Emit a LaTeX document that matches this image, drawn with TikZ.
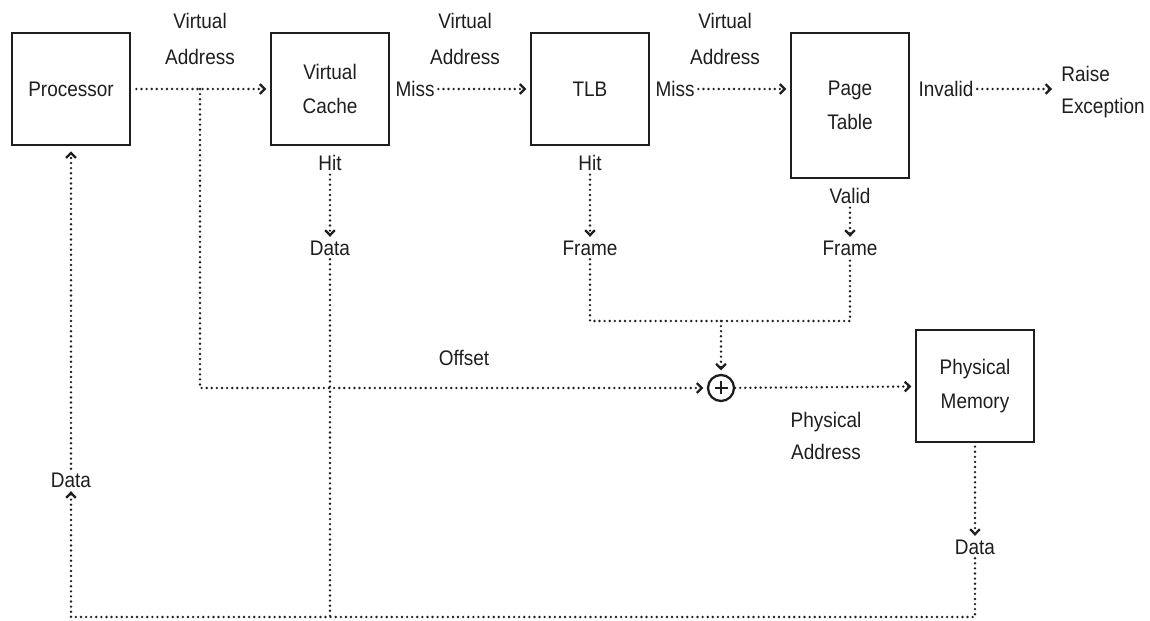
\documentclass[tikz,border=0pt]{standalone}
\usepackage{fontspec}
\setmainfont{Liberation Sans}[FakeStretch=0.9]
\usepackage{tikz}
\usetikzlibrary{arrows.meta, positioning, calc}
\definecolor{ink}{RGB}{30, 30, 30}

\begin{document}
\begin{tikzpicture}[
    x=0.02cm, y=-0.02cm,
    every node/.style={text=ink, font=\fontsize{12}{19}\selectfont},
    block/.style={draw=ink, line width=1.3pt, minimum width=2.36cm, minimum height=2.24cm, align=center},
    lbl/.style={align=center, inner sep=2pt},
    dots/.style={draw=ink, line width=1.5pt, line cap=round, dash pattern=on 0pt off 2.9pt},
    flow/.style={dots, -{Straight Barb[length=2.8pt, width=5.5pt, line width=1.3pt]}},
    adder/.style={draw=ink, line width=1.3pt, circle, minimum size=0.52cm, inner sep=0pt,
        path picture={\draw[ink, line width=1.2pt]
            ($(path picture bounding box.north)!0.25!(path picture bounding box.south)$) --
            ($(path picture bounding box.north)!0.75!(path picture bounding box.south)$)
            ($(path picture bounding box.west)!0.25!(path picture bounding box.east)$) --
            ($(path picture bounding box.west)!0.75!(path picture bounding box.east)$);}}
]
    \useasboundingbox (0,0) rectangle (1150,621);

    % Boxes
    \node[block] (proc) at (71, 89) {Processor};
    \node[block] (vcache) at (330, 89) {Virtual\\Cache};
    \node[block] (tlb) at (590, 89) {TLB};
    \node[block, minimum height=2.9cm] (ptable) at (850, 105.5) {Page\\Table};
    \node[block] (pmem) at (975, 386) {Physical\\Memory};
    \node[adder] (plus) at (721, 388) {};

    % Labels
    \node[lbl, font=\fontsize{12}{21}\selectfont] at (200, 39) {Virtual\\Address};
    \node[lbl, font=\fontsize{12}{21}\selectfont] at (465, 39) {Virtual\\Address};
    \node[lbl, font=\fontsize{12}{21}\selectfont] at (725, 39) {Virtual\\Address};
    \node[lbl] (miss1) at (415, 89) {Miss};
    \node[lbl] (miss2) at (675, 89) {Miss};
    \node[lbl] (invalid) at (946, 89) {Invalid};
    \node[lbl, align=left, font=\fontsize{12}{18}\selectfont] (exc) at (1103, 92) {Raise\\Exception};
    \node[lbl] (hit1) at (330, 163) {Hit};
    \node[lbl] (data1) at (330, 248) {Data};
    \node[lbl] (hit2) at (590, 163) {Hit};
    \node[lbl] (frame1) at (590, 248) {Frame};
    \node[lbl] (valid) at (850, 196) {Valid};
    \node[lbl] (frame2) at (850, 248) {Frame};
    \node[lbl] at (464, 358) {Offset};
    \node[lbl, font=\fontsize{12}{18}\selectfont] at (826, 436) {Physical\\Address};
    \node[lbl] (data3) at (975, 547) {Data};
    \node[lbl] (data0) at (71, 480) {Data};

    \coordinate (va) at (200, 89);
    \coordinate (join) at (721, 321);
    \coordinate (corner) at (71, 617);

    % Virtual address path
    \draw[flow, shorten <=3pt, shorten >=2pt] (proc) -- (vcache);
    \draw[flow, shorten >=2pt] (va) |- (plus);
    \draw[flow, shorten >=2pt] (miss1) -- (tlb);
    \draw[flow, shorten >=2pt] (miss2) -- (miss2 -| ptable.west);
    \draw[flow, shorten >=3pt] (invalid) -- (invalid -| exc.west);

    % Hits and frames
    \draw[flow] (hit1) -- (data1);
    \draw[flow] (hit2) -- (frame1);
    \draw[flow] (valid) -- (frame2);
    \draw[dots] (frame1) |- (join) -| (frame2);
    \draw[flow, shorten >=2pt] (join) -- (plus);
    \draw[flow, shorten >=2pt] (plus) -- (pmem);

    % Data back to processor
    \draw[flow, shorten <=2pt] (pmem) -- (data3);
    \draw[flow] (data3) |- (corner) -- (data0);
    \draw[dots] (data1) -- (data1 |- corner);
    \draw[flow, shorten >=3pt] (data0) -- (proc);
\end{tikzpicture}
\end{document}
